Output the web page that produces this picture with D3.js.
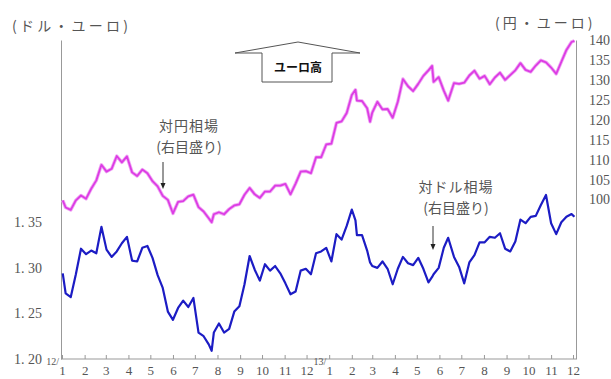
<!DOCTYPE html>
<html>
<head>
<meta charset="utf-8">
<script src="https://cdn.jsdelivr.net/npm/d3@7"></script>
<style>
  body { margin: 0; background: #fff; }
  text { fill: #555; }
  .num { font-family: "Liberation Serif", "DejaVu Serif", serif; font-size: 14px; }
  .jp { font-family: "Noto Sans CJK JP", sans-serif; font-size: 14px; }
</style>
</head>
<body>
<svg id="chart" width="611" height="379"></svg>
<script>
// Weekly observation dates (plus a few turning points)
let dates = [
  "2012-01-02","2012-01-06","2012-01-13","2012-01-20","2012-01-27",
  "2012-02-03","2012-02-10","2012-02-17","2012-02-24",
  "2012-03-02","2012-03-09","2012-03-16","2012-03-23","2012-03-30",
  "2012-04-06","2012-04-13","2012-04-20","2012-04-27",
  "2012-05-04","2012-05-11","2012-05-18","2012-05-25",
  "2012-06-01","2012-06-08","2012-06-15","2012-06-22","2012-06-29",
  "2012-07-06","2012-07-13","2012-07-20","2012-07-24","2012-07-27",
  "2012-08-03","2012-08-10","2012-08-17","2012-08-24","2012-08-31",
  "2012-09-07","2012-09-14","2012-09-21","2012-09-28",
  "2012-10-05","2012-10-12","2012-10-19","2012-10-26",
  "2012-11-02","2012-11-09","2012-11-16","2012-11-23","2012-11-30",
  "2012-12-07","2012-12-14","2012-12-21","2012-12-28",
  "2013-01-04","2013-01-11","2013-01-18","2013-01-25",
  "2013-02-01","2013-02-06","2013-02-08","2013-02-15","2013-02-22","2013-02-26",
  "2013-03-01","2013-03-08","2013-03-15","2013-03-22","2013-03-29",
  "2013-04-05","2013-04-12","2013-04-19","2013-04-26",
  "2013-05-03","2013-05-10","2013-05-17","2013-05-22","2013-05-24","2013-05-31",
  "2013-06-07","2013-06-13","2013-06-21","2013-06-28",
  "2013-07-05","2013-07-12","2013-07-19","2013-07-26",
  "2013-08-02","2013-08-09","2013-08-16","2013-08-23","2013-08-30",
  "2013-09-06","2013-09-13","2013-09-20","2013-09-27",
  "2013-10-04","2013-10-11","2013-10-18","2013-10-25",
  "2013-11-01","2013-11-08","2013-11-15","2013-11-22","2013-11-29",
  "2013-12-03"
];

// ドル・ユーロ (left scale)
let usdEur = [
  1.294,1.272,1.268,1.293,1.321,
  1.315,1.319,1.316,1.345,
  1.320,1.312,1.318,1.327,1.334,
  1.308,1.307,1.322,1.324,
  1.311,1.292,1.278,1.252,
  1.243,1.256,1.264,1.257,1.267,
  1.229,1.225,1.216,1.209,1.229,
  1.239,1.229,1.233,1.252,1.258,
  1.282,1.313,1.298,1.286,
  1.304,1.297,1.302,1.294,
  1.283,1.271,1.274,1.297,1.299,
  1.293,1.316,1.318,1.322,
  1.307,1.337,1.331,1.346,
  1.364,1.352,1.336,1.336,1.319,1.306,
  1.302,1.300,1.307,1.299,1.282,
  1.299,1.312,1.305,1.303,
  1.311,1.299,1.284,1.290,1.293,1.300,
  1.322,1.333,1.312,1.301,
  1.283,1.306,1.314,1.328,
  1.328,1.334,1.333,1.338,1.321,
  1.318,1.329,1.353,1.349,
  1.356,1.357,1.369,1.380,
  1.349,1.337,1.350,1.356,1.359,
  1.356
];

// 円・ユーロ (right scale)
let jpyEur = [
  99.8,98.0,97.4,99.8,101.0,
  100.2,102.7,104.8,108.7,
  107.0,107.7,110.9,109.3,110.8,
  106.8,105.9,107.5,106.6,
  104.6,103.3,100.9,99.9,
  96.5,99.4,99.6,100.8,101.2,
  98.1,97.0,95.3,94.3,96.3,
  96.8,96.3,97.6,98.5,98.8,
  101.2,102.9,101.3,100.4,
  102.0,102.0,103.5,103.5,
  103.9,101.3,104.0,107.0,107.1,
  106.6,110.6,110.6,113.8,
  114.0,119.2,119.6,121.7,
  126.2,127.5,124.8,124.7,122.9,119.5,
  121.8,124.5,122.6,122.7,120.5,
  124.5,130.2,128.4,127.2,
  129.0,131.0,132.4,133.5,129.5,130.7,
  127.3,124.8,129.2,129.0,
  129.3,131.1,132.3,130.3,
  131.0,128.9,130.6,131.8,130.0,
  131.2,132.4,134.2,132.5,
  132.0,133.6,134.9,134.4,
  133.1,131.5,134.5,137.5,139.5,
  139.8
];

let leftTicks = [1.20, 1.25, 1.30, 1.35];
let rightTicks = [100, 105, 110, 115, 120, 125, 130, 135, 140];

let parse = d3.timeParse("%Y-%m-%d");
let points = dates.map(function(d, i) {
  return { date: parse(d), usd: usdEur[i], jpy: jpyEur[i] };
});

let svg = d3.select("#chart");

let x = d3.scaleTime()
  .domain([new Date(2012, 0, 1), new Date(2013, 11, 1)])
  .range([62, 573]);
let yL = d3.scaleLinear().domain([1.20, 1.55]).range([359, 40]);
let yR = d3.scaleLinear().domain([60, 140]).range([359, 40]);

// Left axis
let gL = svg.append("g")
  .attr("transform", "translate(61,0)")
  .call(d3.axisLeft(yL).tickValues(leftTicks).tickSize(0).tickPadding(19)
    .tickFormat(function(d) { return d3.format(".2f")(d).replace(".", ". "); }));
gL.selectAll("text").attr("class", "num").attr("font-family", null).attr("font-size", null);

// Right axis
let gR = svg.append("g")
  .attr("transform", "translate(576,0)")
  .call(d3.axisRight(yR).tickValues(rightTicks).tickSize(0).tickPadding(13));
gR.selectAll("text").attr("class", "num").attr("font-family", null).attr("font-size", null);

svg.selectAll(".domain").attr("stroke", "#999");

// Bottom axis
let months = d3.timeMonth.range(new Date(2012, 0, 1), new Date(2013, 11, 2));
svg.append("line")
  .attr("x1", 61).attr("x2", 576).attr("y1", 359).attr("y2", 359)
  .attr("stroke", "#999");
let gB = svg.append("g")
  .attr("transform", "translate(0,359)")
  .call(d3.axisBottom(x).tickValues(months).tickSizeInner(-4).tickSizeOuter(0).tickPadding(7)
    .tickFormat(function(d) { return d.getMonth() + 1; }));
gB.select(".domain").remove();
gB.selectAll(".tick line").attr("stroke", "#999");
gB.selectAll("text").attr("class", "num").attr("font-family", null).attr("font-size", null)
  .style("font-size", "13px");

// year marks over January
svg.selectAll(".yr")
  .data(months.filter(function(d) { return d.getMonth() === 0; }))
  .enter().append("text")
  .attr("class", "num")
  .attr("x", function(d) { return x(d) - 3; })
  .attr("y", 365)
  .attr("text-anchor", "end")
  .style("font-size", "10px")
  .text(function(d) { return String(d.getFullYear()).slice(2) + "/"; });

// Lines
let lineJpy = d3.line().x(function(d) { return x(d.date); }).y(function(d) { return yR(d.jpy); });
let lineUsd = d3.line().x(function(d) { return x(d.date); }).y(function(d) { return yL(d.usd); });

svg.append("path").datum(points)
  .attr("fill", "none").attr("stroke", "#f0a8f4").attr("stroke-width", 3.5)
  .attr("stroke-linejoin", "round").attr("d", lineJpy);
svg.append("path").datum(points)
  .attr("fill", "none").attr("stroke", "#dc3ce4").attr("stroke-width", 1.8)
  .attr("stroke-linejoin", "round").attr("d", lineJpy);
svg.append("path").datum(points)
  .attr("fill", "none").attr("stroke", "#1c1cc4").attr("stroke-width", 2.2)
  .attr("stroke-linejoin", "round").attr("d", lineUsd);

// Axis titles
svg.append("text").attr("class", "jp").attr("x", 12).attr("y", 31)
  .style("letter-spacing", "3.2px").text("(ドル・ユーロ)");
svg.append("text").attr("class", "jp").attr("x", 495).attr("y", 28)
  .style("letter-spacing", "3px").text("(円・ユーロ)");

// ユーロ高 arrow box
svg.append("path")
  .attr("d", "M235,53 L298,42 L360,53 L332,53 L332,82 L262,82 L262,53 Z")
  .attr("fill", "#fff").attr("stroke", "#555").attr("stroke-width", 1);
svg.append("text")
  .attr("x", 298).attr("y", 72)
  .attr("text-anchor", "middle")
  .attr("font-family", "Noto Sans CJK JP, sans-serif")
  .attr("font-weight", "bold").attr("font-size", 12)
  .style("fill", "#111")
  .text("ユーロ高");

// Annotations
function note(cx, y1, y2, line1, line2, ax, a1, a2) {
  svg.append("text").attr("class", "jp").attr("x", cx).attr("y", y1)
    .attr("text-anchor", "middle").style("letter-spacing", "1px").text(line1);
  svg.append("text").attr("class", "jp").attr("x", cx).attr("y", y2)
    .attr("text-anchor", "middle").text(line2);
  svg.append("line").attr("x1", ax).attr("x2", ax).attr("y1", a1).attr("y2", a2 - 4)
    .attr("stroke", "#333").attr("stroke-width", 1);
  svg.append("path")
    .attr("d", "M" + (ax - 2.5) + "," + (a2 - 6) + " L" + (ax + 2.5) + "," + (a2 - 6) + " L" + ax + "," + a2 + " Z")
    .attr("fill", "#222");
}
note(189, 131, 152, "対円相場", "(右目盛り)", 163, 162, 189);
note(456, 192, 213, "対ドル相場", "(右目盛り)", 433, 226, 250);
</script>
</body>
</html>
